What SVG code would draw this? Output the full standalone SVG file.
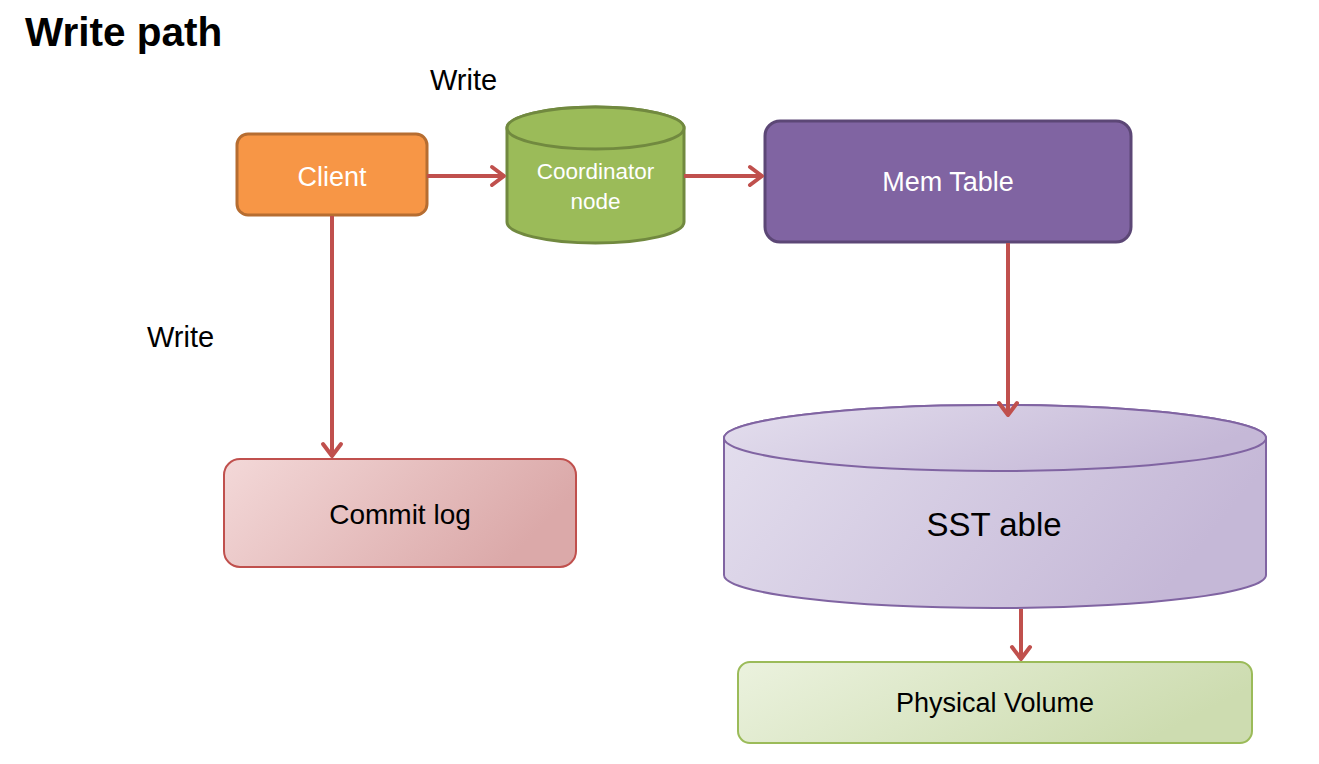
<svg xmlns="http://www.w3.org/2000/svg" width="1319" height="764" viewBox="0 0 1319 764">
<style>
text{font-family:"Liberation Sans",Arial,sans-serif;text-anchor:middle}
.lbl{fill:#000;text-anchor:start}
.conn{stroke:#C0504D;stroke-width:4;fill:none}
</style>
<defs>
<marker id="arr" markerUnits="userSpaceOnUse" markerWidth="24" markerHeight="24" viewBox="0 0 24 24" refX="20" refY="12" orient="auto">
<path d="M8,3 L20,12 L8,21" fill="none" stroke="#C0504D" stroke-width="4" stroke-linecap="round" stroke-linejoin="round"/>
</marker>
<linearGradient id="gCommit" x1="0" y1="0" x2="1" y2="0.3"><stop offset="0" stop-color="#F3D8D8"/><stop offset="1" stop-color="#DBA9A9"/></linearGradient>
<linearGradient id="gSST" x1="0" y1="0" x2="1" y2="0.3"><stop offset="0" stop-color="#E4DFEE"/><stop offset="1" stop-color="#C5B8D7"/></linearGradient>
<linearGradient id="gPV" x1="0" y1="0" x2="1" y2="0.3"><stop offset="0" stop-color="#EBF2DE"/><stop offset="1" stop-color="#CDDCB0"/></linearGradient>
</defs>
<rect width="1319" height="764" fill="#fff"/>
<text class="lbl" x="25" y="46" font-size="40.5" font-weight="bold">Write path</text>
<text class="lbl" x="430" y="90" font-size="29">Write</text>
<text class="lbl" x="147" y="347" font-size="29">Write</text>
<g id="client">
<rect x="237" y="134" width="190" height="81" rx="11" fill="#F79646" stroke="#B66D31" stroke-width="3"/>
<text x="332" y="186" font-size="27" fill="#fff">Client</text>
</g>
<g id="coordinator">
<path d="M507,128 A88.5,21 0 0 1 684,128 V222 A88.5,21 0 0 1 507,222 Z" fill="#9BBB59" stroke="#71893F" stroke-width="3"/>
<ellipse cx="595.5" cy="128" rx="88.5" ry="21" fill="#9BBB59" stroke="#71893F" stroke-width="3"/>
<text x="595.5" y="179" font-size="22.5" fill="#fff">Coordinator</text>
<text x="595.5" y="209" font-size="22.5" fill="#fff">node</text>
</g>
<g id="memtable">
<rect x="765" y="121" width="366" height="121" rx="15" fill="#8064A2" stroke="#5C4776" stroke-width="3"/>
<text x="948" y="191" font-size="27" fill="#fff">Mem Table</text>
</g>
<g id="commitlog">
<rect x="224" y="459" width="352" height="108" rx="16" fill="url(#gCommit)" stroke="#C0504D" stroke-width="2"/>
<text x="400" y="524" font-size="28" fill="#000">Commit log</text>
</g>
<g id="sstable">
<path d="M724,438 A271,33 0 0 1 1266,438 V575 A271,33 0 0 1 724,575 Z" fill="url(#gSST)" stroke="#8064A2" stroke-width="2"/>
<ellipse cx="995" cy="438" rx="271" ry="33" fill="url(#gSST)" stroke="#8064A2" stroke-width="2"/>
<text x="994" y="536" font-size="33" fill="#000">SST able</text>
</g>
<g id="physical">
<rect x="738" y="662" width="514" height="81" rx="12" fill="url(#gPV)" stroke="#9BBB59" stroke-width="2"/>
<text x="995" y="712" font-size="27" fill="#000">Physical Volume</text>
</g>
<g id="connectors">
<line class="conn" x1="427" y1="176" x2="504" y2="176" marker-end="url(#arr)"/>
<line class="conn" x1="684" y1="176" x2="762" y2="176" marker-end="url(#arr)"/>
<line class="conn" x1="332" y1="216" x2="332" y2="456" marker-end="url(#arr)"/>
<line class="conn" x1="1008" y1="243" x2="1008" y2="415" marker-end="url(#arr)"/>
<line class="conn" x1="1021" y1="609" x2="1021" y2="659" marker-end="url(#arr)"/>
</g>
</svg>
